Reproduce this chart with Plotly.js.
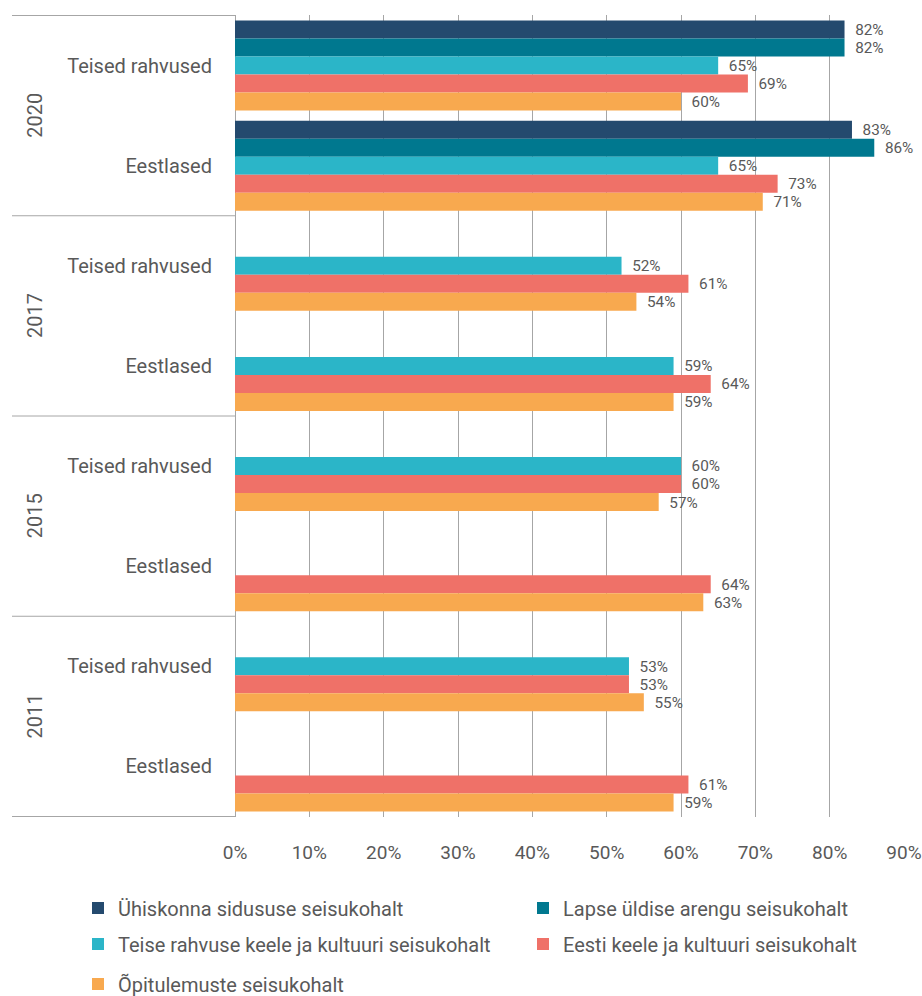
<!DOCTYPE html>
<html>
<head>
<meta charset="utf-8">
<script src="https://cdn.plot.ly/plotly-3.0.1.min.js"></script>
<style>html,body{margin:0;padding:0;background:#fff;}#chart{width:922px;height:996px;}</style>
</head>
<body>
<div id="chart"></div>
<script>
const years = ["2020","2020","2017","2017","2015","2015","2011","2011"];
const groups = ["Teised rahvused","Eestlased","Teised rahvused","Eestlased","Teised rahvused","Eestlased","Teised rahvused","Eestlased"];
const seriesNames = [
  "Ühiskonna sidususe seisukohalt",
  "Lapse üldise arengu seisukohalt",
  "Teise rahvuse keele ja kultuuri seisukohalt",
  "Eesti keele ja kultuuri seisukohalt",
  "Õpitulemuste seisukohalt"
];
const sidusus   = [82, 83, null, null, null, null, null, null];
const areng     = [82, 86, null, null, null, null, null, null];
const teiseKeel = [65, 65, 52, 59, 60, null, 53, null];
const eestiKeel = [69, 73, 61, 64, 60, 64, 53, 61];
const opitulem  = [60, 71, 54, 59, 57, 63, 55, 59];
const xTickVals = [0,10,20,30,40,50,60,70,80,90];
const xTickText = ["0%","10%","20%","30%","40%","50%","60%","70%","80%","90%"];
const colors = ["#244a6e","#00788f","#2bb5c8","#ef7168","#f8a94f"];

const font = "Roboto, 'Liberation Sans', sans-serif";
const textColor = "#595959";
const lineColor = "#a6a6a6";

// unique category keys built from year + group, displayed as group name only
const yKeys = years.map((y, i) => y + " | " + groups[i]);

const allValues = [sidusus, areng, teiseKeel, eestiKeel, opitulem];
const legendIds = ["legend", "legend2", "legend3", "legend4", "legend5"];
const traces = allValues.map((vals, i) => ({
  type: "bar",
  orientation: "h",
  name: seriesNames[i],
  legend: legendIds[i],
  x: vals,
  y: yKeys,
  marker: {color: colors[i]},
  text: vals.map(v => v === null ? "" : "\u00a0\u00a0" + v + "%"),
  textposition: "outside",
  textfont: {size: 17, color: textColor, family: font},
  cliponaxis: false,
  hoverinfo: "x+y"
}));

// year blocks: dividers and rotated year labels derived from the years array
const shapes = [];
const annotations = [];
const leftEdge = -223 / 669;
let start = 0;
for (let i = 1; i <= years.length; i++) {
  if (i === years.length || years[i] !== years[start]) {
    annotations.push({
      text: years[start], xref: "paper", yref: "y",
      x: -200 / 669, y: (start + i - 1) / 2,
      textangle: -90, showarrow: false,
      font: {size: 20, color: textColor, family: font},
      xanchor: "center", yanchor: "middle"
    });
    start = i;
  }
}
const boundaries = [-0.5];
years.forEach((y, i) => { if (i > 0 && years[i] !== years[i - 1]) boundaries.push(i - 0.5); });
boundaries.push(years.length - 0.5);
boundaries.forEach(b => shapes.push({
  type: "line", xref: "paper", yref: "y",
  x0: leftEdge, x1: 0, y0: b, y1: b,
  line: {color: lineColor, width: 1}
}));

function legendAt(px, py) {
  return {
    orientation: "h",
    xref: "container", yref: "container",
    x: px / 922, xanchor: "left",
    y: 1 - py / 996, yanchor: "middle",
    font: {size: 20, color: textColor, family: font},
    bgcolor: "rgba(0,0,0,0)",
    borderwidth: 0
  };
}

const layout = {
  width: 922,
  height: 996,
  margin: {l: 235, r: 18, t: 15, b: 179},
  barmode: "group",
  bargap: 0.1,
  bargroupgap: 0,
  paper_bgcolor: "#fff",
  plot_bgcolor: "#fff",
  font: {family: font, color: textColor, size: 17},
  showlegend: true,
  legend: legendAt(78, 908),
  legend2: legendAt(523, 908),
  legend3: legendAt(78, 944),
  legend4: legendAt(523, 944),
  legend5: legendAt(78, 984),
  shapes: shapes,
  annotations: annotations,
  xaxis: {
    range: [0, 90],
    tickvals: xTickVals,
    ticktext: xTickText,
    showgrid: true,
    gridcolor: lineColor,
    gridwidth: 1,
    zeroline: true,
    zerolinecolor: lineColor,
    zerolinewidth: 1,
    showline: false,
    ticks: "",
    automargin: false,
    ticklabelstandoff: 22,
    tickfont: {size: 19, color: textColor}
  },
  yaxis: {
    type: "category",
    autorange: "reversed",
    tickvals: yKeys,
    ticktext: groups,
    showline: false,
    ticks: "",
    automargin: false,
    ticklabelstandoff: 22,
    tickfont: {size: 20, color: textColor},
    showgrid: false
  }
};

Plotly.newPlot("chart", traces, layout, {displayModeBar: false, staticPlot: true});
</script>
</body>
</html>
